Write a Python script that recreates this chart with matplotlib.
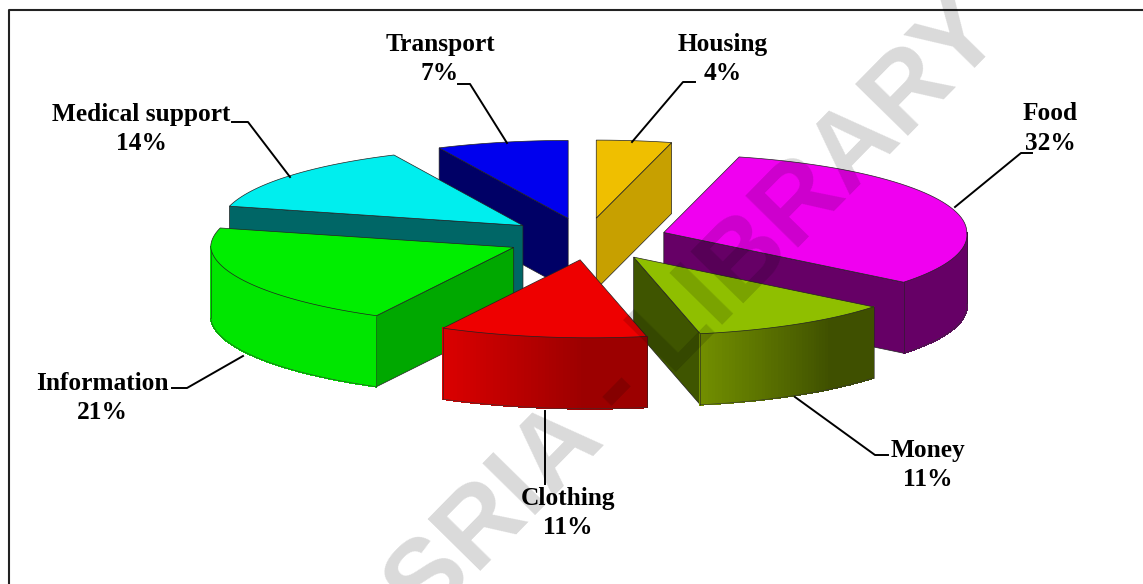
import matplotlib
matplotlib.use('Agg')
import matplotlib.pyplot as plt
import numpy as np
from matplotlib.collections import PolyCollection
from matplotlib.patches import Polygon

# Data, clockwise from 12 o'clock
categories = ['Housing', 'Food', 'Money', 'Clothing', 'Information', 'Medical support', 'Transport']
shares = [4, 32, 11, 11, 21, 14, 7]

top_colors = ['#EFBF00', '#F000F0', '#8FBF00', '#EE0000', '#00EE00', '#00EEEE', '#0000EE']
cut_colors = ['#C7A000', '#660066', '#3F5500', '#A00000', '#00A800', '#006666', '#000066']
rim_start = ['#C7A000', '#660066', '#3F5000', '#9C0000', '#00E600', '#006666', '#000066']
rim_end = ['#C7A000', '#660066', '#728F00', '#DC0000', '#00E600', '#006666', '#000066']

# Layout of the exploded pie, in pixels
cx, cy = 586, 239
rx, ry = 303, 78
depth = 71
explode = 0.27
front_shear = 10
draw_order = [6, 0, 5, 1, 4, 2, 3]

# label centre, then leader line
label_pos = [(723, 44), (1050, 114), (928, 450), (568, 498), (102, 383), (141, 114), (440, 44)]
leaders = [
    [(632, 142), (683, 82), (695, 82)],
    [(955, 207), (1021, 153), (1032, 153)],
    [(795, 397), (875, 455), (888, 455)],
    [(545, 411), (545, 484)],
    [(243, 356), (187, 388), (172, 388)],
    [(290, 177), (248, 122), (232, 122)],
    [(507, 143), (470, 84), (458, 84)],
]

fig = plt.figure(figsize=(11.43, 5.84), dpi=100)
ax = fig.add_axes([0, 0, 1, 1])
ax.set_xlim(0, 1143)
ax.set_ylim(584, 0)
ax.axis('off')


def rim_points(x0, y0, a0, a1, n=60):
    t = np.radians(np.linspace(a0, a1, n))
    c = np.cos(t)
    return np.column_stack([x0 + rx * np.sin(t) + front_shear * np.maximum(0, -c), y0 - ry * c])


def blend(c0, c1, n):
    c0 = np.array(matplotlib.colors.to_rgb(c0))
    c1 = np.array(matplotlib.colors.to_rgb(c1))
    return [c0 + (c1 - c0) * np.clip((i / n - 0.3) / 0.7, 0, 1) for i in range(n)]


edges = np.cumsum([0] + shares) * 3.6

for rank, i in enumerate(draw_order):
    z = 2 + rank * 0.1
    a0, a1 = edges[i], edges[i + 1]
    mid = np.radians((a0 + a1) / 2)
    # wedges nearer the viewer sit a little further right
    x0 = cx + explode * rx * np.sin(mid) + 0.7 * front_shear * max(0, -np.cos(mid))
    y0 = cy - explode * ry * np.cos(mid)
    pts = rim_points(x0, y0, a0, a1)
    apex = np.array([x0, y0])
    down = np.array([0, depth])

    # cut faces turned towards the viewer
    for p, seen in ((pts[0], np.sin(np.radians(a0)) < -0.01), (pts[-1], np.sin(np.radians(a1)) > 0.01)):
        if seen:
            quad = [apex, p, p + down, apex + down]
            ax.add_patch(Polygon(quad, fc=cut_colors[i], ec='#222222', lw=0.5, zorder=z))

    # outer wall, only the front half of the ellipse
    w0, w1 = max(a0, 90), min(a1, 270)
    if w1 > w0:
        wall = rim_points(x0, y0, w0, w1)
        quads = [[wall[j], wall[j + 1], wall[j + 1] + down, wall[j] + down] for j in range(len(wall) - 1)]
        cols = blend(rim_start[i], rim_end[i], len(quads))
        ax.add_collection(PolyCollection(quads, facecolors=cols, edgecolors=cols, linewidths=0.6,
                                         antialiaseds=False, zorder=z))
        ax.plot(wall[:, 0], wall[:, 1] + depth, color='#333333', lw=0.4, zorder=z)
        for p in (wall[0], wall[-1]):
            ax.plot([p[0], p[0]], [p[1], p[1] + depth], color='#222222', lw=0.4, zorder=z)

    # top face
    ax.add_patch(Polygon(np.vstack([apex, pts]), fc=top_colors[i], ec='#222222', lw=0.5, zorder=z + 0.05))

# Labels
for name, share, pos, line in zip(categories, shares, label_pos, leaders):
    ax.text(pos[0], pos[1], name, ha='center', va='center', family='Liberation Serif',
            fontweight='bold', fontsize=18.3, color='black', zorder=5)
    ax.text(pos[0], pos[1] + 29.5, f'{share}%', ha='center', va='center', family='Liberation Serif',
            fontweight='bold', fontsize=18.3, color='black', zorder=5)
    xs, ys = zip(*line)
    ax.plot(xs, ys, color='black', lw=1.4, zorder=5)

# Frame, open at the right and bottom
ax.plot([8.5, 8.5, 1143], [584, 9.5, 9.5], color='#222222', lw=1.5, zorder=6)

# Watermark
ax.text(668, 340, 'CSRIA - LIBRARY', rotation=45.5, rotation_mode='anchor', ha='center', va='center',
        family='Liberation Sans', fontweight='bold', fontsize=78, color='black', alpha=0.15, zorder=7)

fig.savefig('out.png', dpi=100)
